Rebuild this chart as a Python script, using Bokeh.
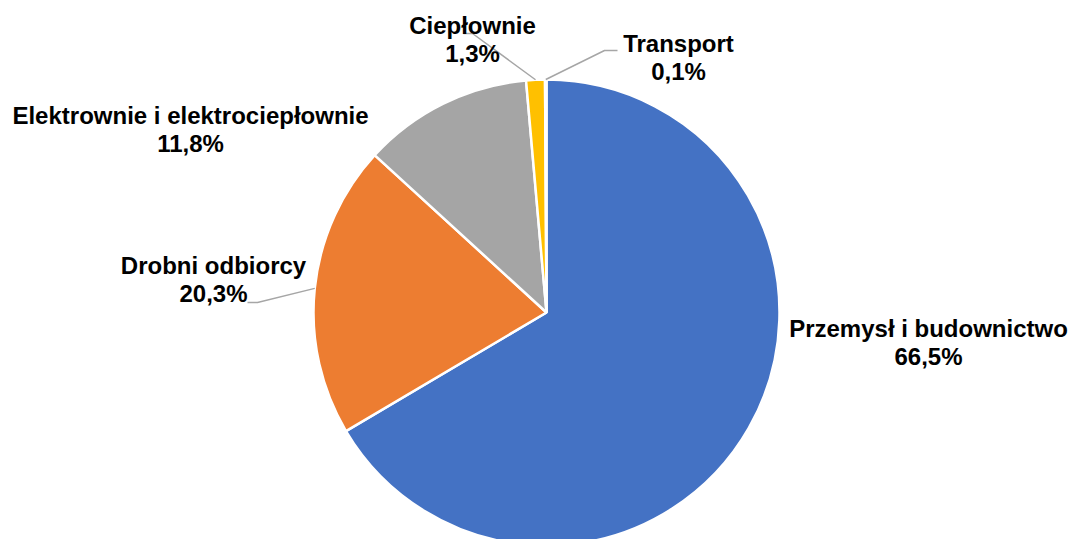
import math
from bokeh.plotting import figure
from bokeh.models import Range1d, ColumnDataSource
from bokeh.core.properties import value
from bokeh.embed import file_html
from bokeh.resources import INLINE

# ---- data ----
categories = ["Przemysł i budownictwo", "Drobni odbiorcy", "Elektrownie i elektrociepłownie", "Ciepłownie", "Transport"]
shares = [66.5, 20.3, 11.8, 1.3, 0.1]
share_labels = ["66,5%", "20,3%", "11,8%", "1,3%", "0,1%"]
colors = ["#4472C4", "#ED7D31", "#A5A5A5", "#FFC000", "#5B9BD5"]

# ---- layout (screen pixel coordinates, y measured downward) ----
W, H = 1070, 539
CX, CY, R = 546, 312, 233
# label centre (first line) per category
label_pos = [(928, 328), (213, 265), (190, 115), (472, 25), (678, 43)]
LINE_GAP = 28
# leader lines: elbow points (label side) or None
leader_pts = [None, [(247, 302), (257, 302)], None, [(463, 33), (472, 33)], [(617, 50), (604, 50)]]

def Y(sy):
    return H - sy

p = figure(width=W, height=H, output_backend="svg", toolbar_location=None,
           x_range=Range1d(0, W), y_range=Range1d(0, H),
           min_border=0, outline_line_color=None)
p.axis.visible = False
p.grid.visible = False
p.background_fill_color = "white"
p.border_fill_color = "white"

total = sum(shares)
starts, ends, mids = [], [], []
cum = 0.0
for s in shares:
    a0 = math.pi / 2 - 2 * math.pi * cum / total
    cum += s
    a1 = math.pi / 2 - 2 * math.pi * cum / total
    starts.append(a0)
    ends.append(a1)
    mids.append((a0 + a1) / 2)

src = ColumnDataSource(dict(start=starts, end=ends, color=colors, name=categories))
p.wedge(x=CX, y=Y(CY), radius=R, start_angle="start", end_angle="end", direction="clock",
        fill_color="color", line_color="white", line_width=2.5, source=src)

# leader lines
for i, pts in enumerate(leader_pts):
    if pts is None:
        continue
    ex = CX + R * math.cos(mids[i])
    ey = Y(CY) + R * math.sin(mids[i])
    xs = [q[0] for q in pts] + [ex]
    ys = [Y(q[1]) for q in pts] + [ey]
    p.line(xs, ys, line_color="#A6A6A6", line_width=1.5)

# labels
tx, ty, tt = [], [], []
for i, (lx, ly) in enumerate(label_pos):
    tx += [lx, lx]
    ty += [Y(ly), Y(ly + LINE_GAP)]
    tt += [categories[i], share_labels[i]]
p.text(x=tx, y=ty, text=tt, text_font=value("Liberation Sans"), text_font_style="bold",
       text_font_size="24px", text_align="center", text_baseline="middle", text_color="#000000")

open("out.html", "w").write(file_html(p, INLINE))
